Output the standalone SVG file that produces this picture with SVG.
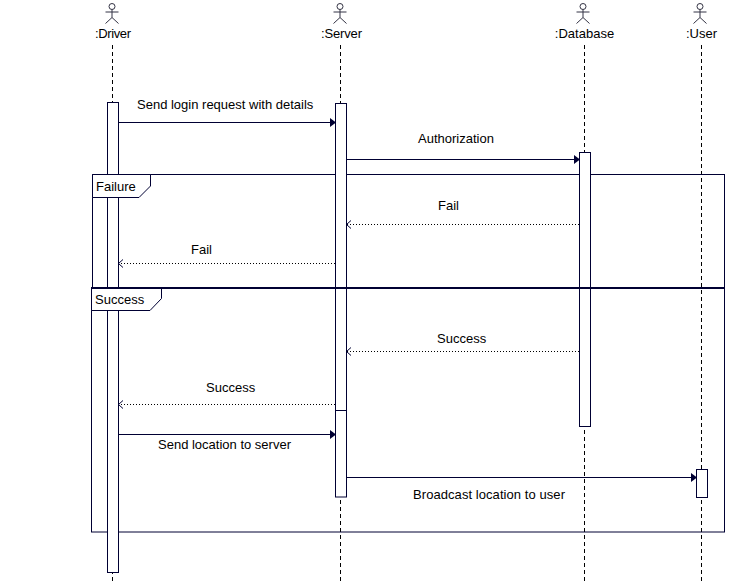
<svg xmlns="http://www.w3.org/2000/svg" width="735" height="583" viewBox="0 0 735 583">
<style>
text{font-family:"Liberation Sans",Arial,sans-serif;font-size:13px;fill:#000}
.m{text-anchor:middle}
.life{stroke:#000;stroke-width:1;stroke-dasharray:4 3;fill:none}
.box{fill:#fff;stroke:#000033;stroke-width:1}
.frame{fill:none;stroke:#000033;stroke-width:1}
.tab{fill:#fff;stroke:#000033;stroke-width:1}
.sync{stroke:#000033;stroke-width:1;fill:none;marker-end:url(#solid)}
.ret{stroke:#000;stroke-width:1;stroke-dasharray:1 2;fill:none;shape-rendering:crispEdges}
.head{stroke:#000033;stroke-width:1;fill:none}
.actor{fill:none;stroke:#333344;stroke-width:1}
</style>
<defs>
<marker id="solid" markerUnits="userSpaceOnUse" markerWidth="8" markerHeight="10" refX="7" refY="5" orient="auto"><path d="M1,0.500 L7,5 L1,9.500 Z" fill="#000033"/></marker>
</defs>
<rect width="735" height="583" fill="#fff"/>
<g id="lifelines">
<path class="life" d="M112.500 45V583"/>
<path class="life" d="M340.500 45V583"/>
<path class="life" d="M584.500 45V583"/>
<path class="life" d="M701.500 45V583"/>
</g>
<g id="frame-failure">
<rect class="frame" x="92.500" y="174.500" width="632" height="113.500"/>
</g>
<g id="frame-success">
<rect class="frame" x="91.500" y="288" width="633" height="244"/>
</g>
<g id="driver">
<g class="actor"><circle cx="112" cy="6.500" r="3"/><path d="M112 9.500V17.500M105.500 12H118.500M105.500 23.500L112 17.500L118.500 23.500"/></g>
<text class="m" x="113" y="38" textLength="36">:Driver</text>
<rect class="box" x="107.500" y="102.500" width="11" height="470"/>
</g>
<g id="server">
<g class="actor"><circle cx="340" cy="6.500" r="3"/><path d="M340 9.500V17.500M333.500 12H346.500M333.500 23.500L340 17.500L346.500 23.500"/></g>
<text class="m" x="341.500" y="38" textLength="41">:Server</text>
<rect class="box" x="335.500" y="103.500" width="11" height="307"/>
<rect class="box" x="335.500" y="410.500" width="11" height="86.500"/>
</g>
<g id="database">
<g class="actor"><circle cx="583" cy="6.500" r="3"/><path d="M583 9.500V17.500M576.500 12H589.500M576.500 23.500L583 17.500L589.500 23.500"/></g>
<text class="m" x="584.500" y="38">:Database</text>
<rect class="box" x="579.500" y="152.500" width="11" height="274"/>
</g>
<g id="user">
<g class="actor"><circle cx="700" cy="6.500" r="3"/><path d="M700 9.500V17.500M693.500 12H706.500M693.500 23.500L700 17.500L706.500 23.500"/></g>
<text class="m" x="701.500" y="38">:User</text>
<rect class="box" x="696.500" y="469.500" width="11" height="28"/>
</g>
<g id="frame-labels">
<path class="tab" d="M92.500 174.500H150.500V186L139 197.500H92.500Z"/>
<text x="96" y="191">Failure</text>
<path class="tab" d="M91.500 288H161.500V298.500L150 310.500H91.500Z"/>
<text x="95" y="304">Success</text>
<path d="M91 288H725" stroke="#000033" stroke-width="2" fill="none"/>
</g>
<g id="connectors">
<path class="sync" d="M118.500 122.500H336"/>
<path class="sync" d="M346.500 159.500H580"/>
<path class="ret" d="M579 224.500H347"/><path class="head" d="M351 220.500L346.500 224.500L351 228.500"/>
<path class="ret" d="M335 263.500H119"/><path class="head" d="M123 259.500L118.500 263.500L123 267.500"/>
<path class="ret" d="M579 351.500H347"/><path class="head" d="M351 347.500L346.500 351.500L351 355.500"/>
<path class="ret" d="M335 404.500H119"/><path class="head" d="M123 400.500L118.500 404.500L123 408.500"/>
<path class="sync" d="M118.500 434.500H336"/>
<path class="sync" d="M346.500 477.500H697"/>
</g>
<g id="labels">
<text x="137" y="109">Send login request with details</text>
<text x="418" y="143">Authorization</text>
<text x="438" y="210">Fail</text>
<text x="191" y="254">Fail</text>
<text x="437" y="343">Success</text>
<text x="206" y="392">Success</text>
<text x="158" y="449">Send location to server</text>
<text x="413" y="499" textLength="152">Broadcast location to user</text>
</g>
</svg>
